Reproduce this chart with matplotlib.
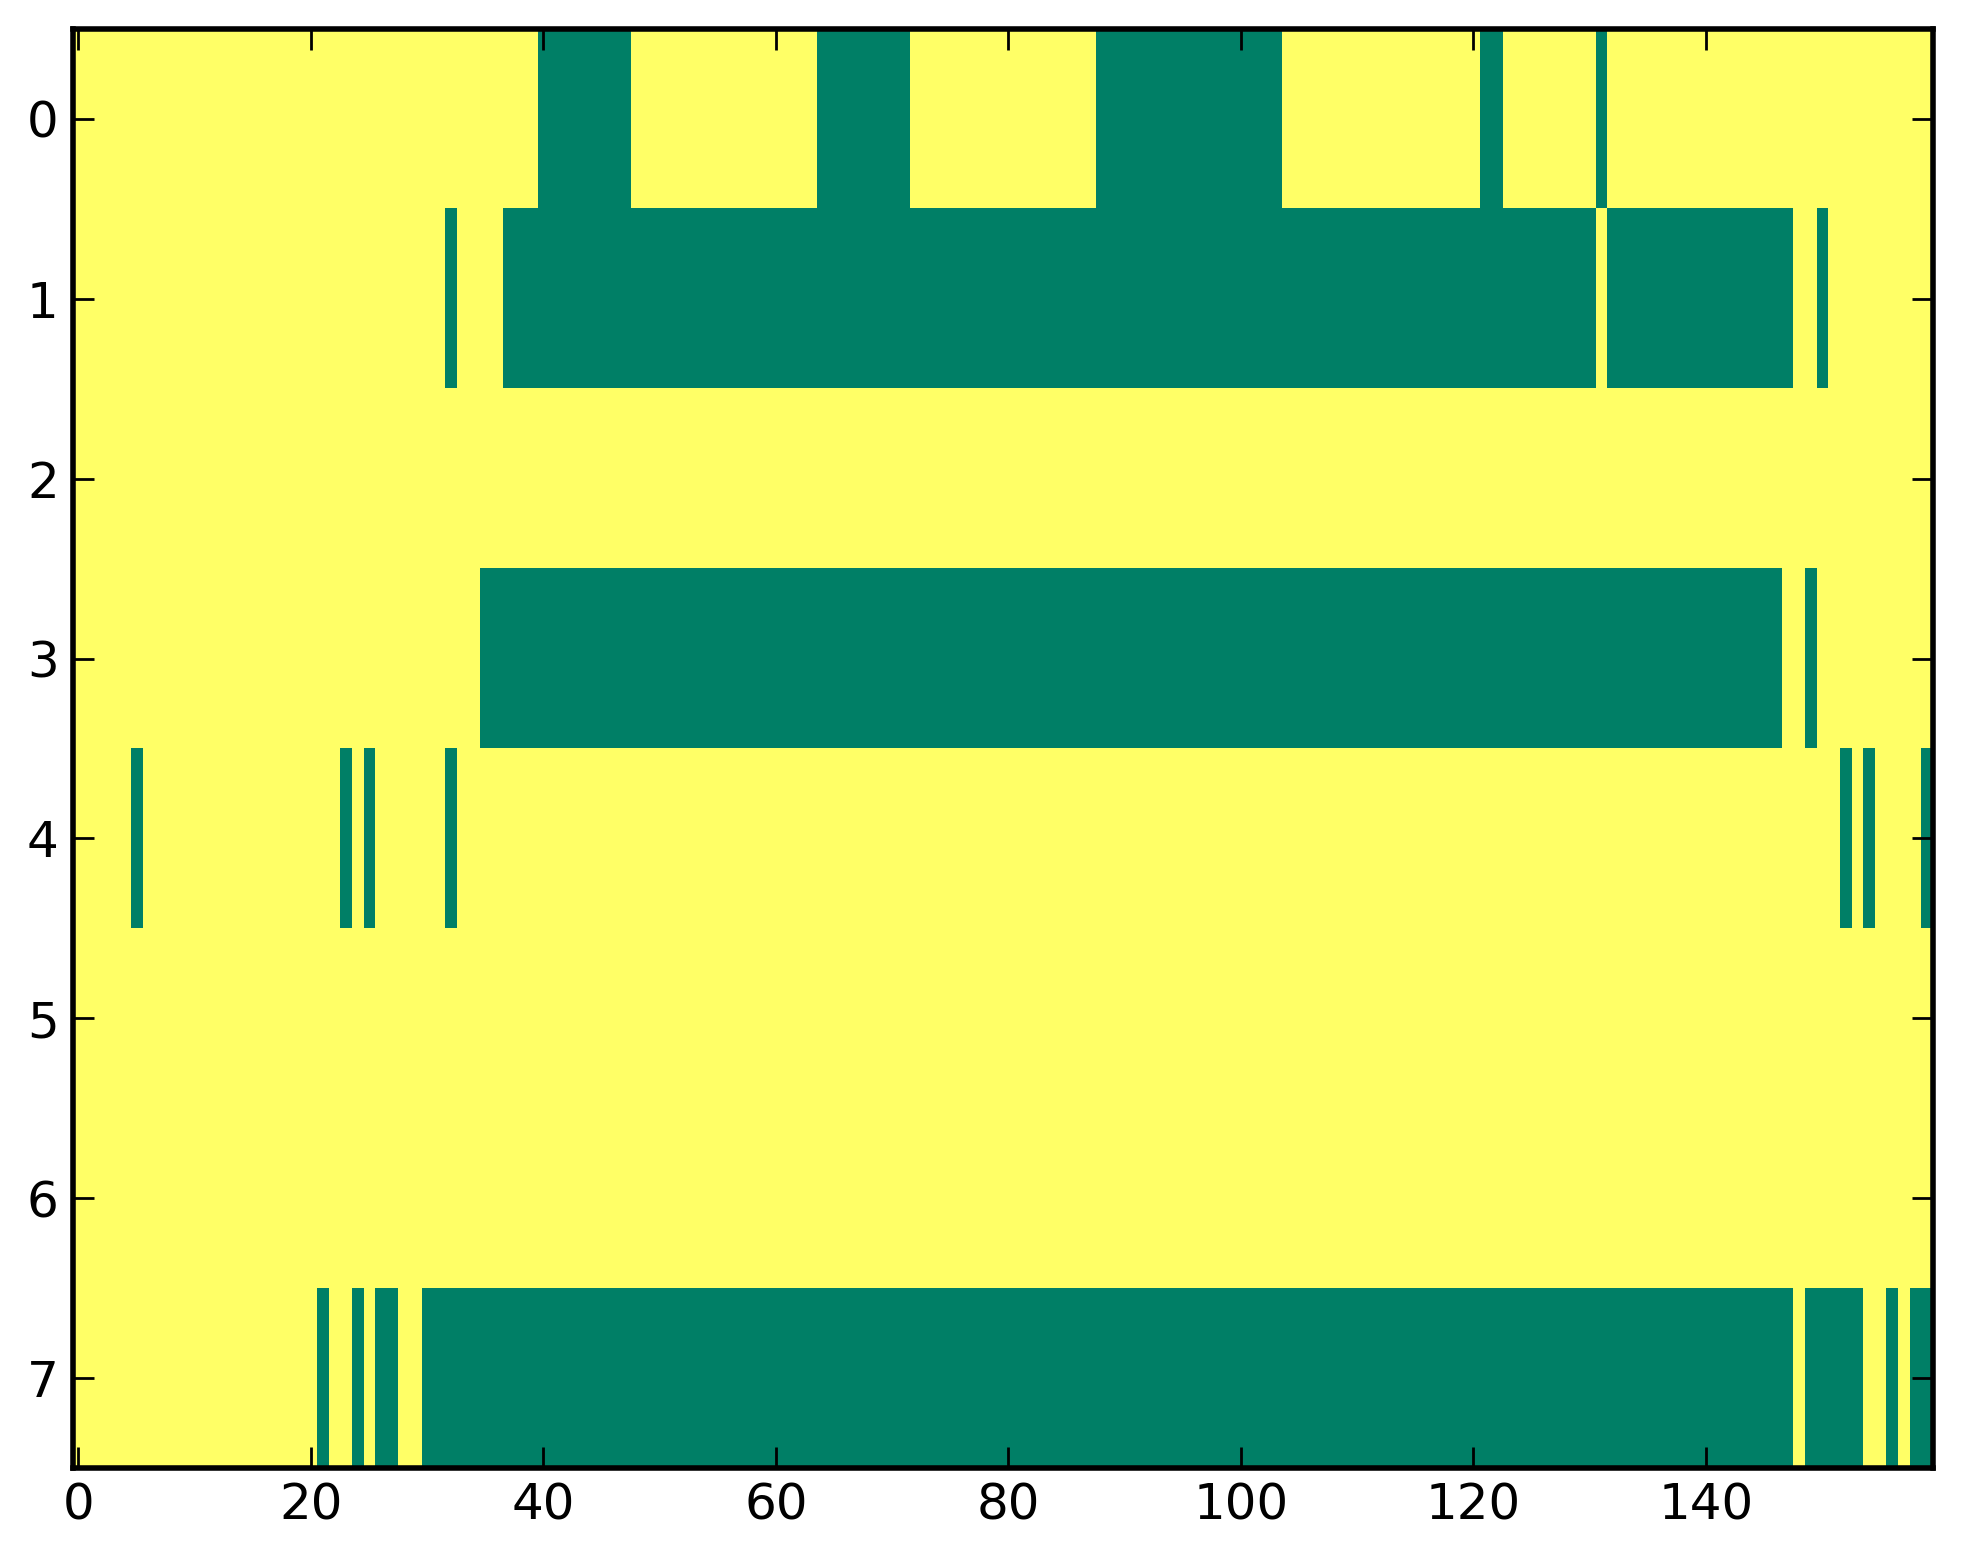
import numpy as np
import matplotlib
matplotlib.use("Agg")
import matplotlib.pyplot as plt

# Columns that are 0 (green) in each of the 8 rows; everything else is 1 (yellow)
n_cols = 160
row0_zero = list(range(40, 48)) + list(range(64, 72)) + list(range(88, 104)) + [121, 122, 131]
row1_zero = [32] + list(range(37, 131)) + list(range(132, 148)) + [150]
row2_zero = []
row3_zero = list(range(35, 147)) + [149]
row4_zero = [5, 23, 25, 32, 152, 154, 159]
row5_zero = []
row6_zero = []
row7_zero = [21, 24, 26, 27] + list(range(30, 148)) + list(range(149, 154)) + [156, 158, 159]

rows = [row0_zero, row1_zero, row2_zero, row3_zero,
        row4_zero, row5_zero, row6_zero, row7_zero]

data = np.ones((len(rows), n_cols), dtype=int)
for i, zeros in enumerate(rows):
    data[i, zeros] = 0

fig = plt.figure(figsize=(19.63, 15.64), dpi=100)
ax = fig.add_axes([0.037, 0.0614, 0.9475, 0.9201])

ax.imshow(data, cmap="summer", aspect="auto", interpolation="nearest", vmin=0, vmax=1)

ax.set_xticks(range(0, 160, 20))
ax.set_yticks(range(0, 8))
ax.tick_params(direction="in", top=True, right=True, length=15, width=2,
               labelsize=36, pad=10)
for s in ax.spines.values():
    s.set_linewidth(4)

plt.savefig("out.png", dpi=100)
